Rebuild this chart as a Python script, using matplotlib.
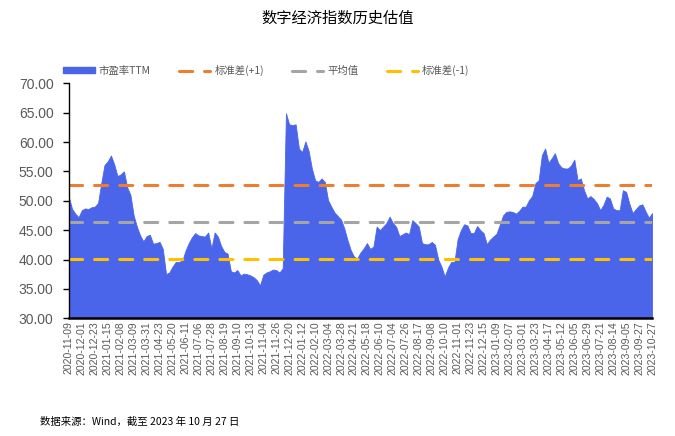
import matplotlib

matplotlib.use("Agg")
import matplotlib.pyplot as plt
import numpy as np
from matplotlib.lines import Line2D
from matplotlib.patches import Patch

plt.rcParams["font.family"] = ["Noto Sans CJK SC", "DejaVu Sans"]

# 市盈率TTM，每4个交易日取一点（2020-11-09 ~ 2023-10-27）
pe_ttm = [
    50.6, 48.6, 47.8, 47.2, 48.4, 48.7, 48.6, 48.9, 49.0, 49.6,
    53.0, 56.1, 56.7, 57.7, 56.2, 54.2, 54.5, 55.0, 52.3, 51.0,
    47.5, 45.6, 44.1, 43.1, 44.0, 44.2, 42.7, 42.8, 43.0, 41.8,
    37.5, 37.8, 38.8, 39.6, 39.6, 39.8, 41.5, 42.8, 43.8, 44.5,
    44.1, 44.0, 43.9, 44.6, 41.9, 44.6, 43.9, 42.3, 41.3, 41.0,
    38.0, 37.8, 38.2, 37.3, 37.6, 37.5, 37.3, 37.0, 36.5, 35.6,
    37.4, 37.8, 38.0, 38.3, 38.2, 37.8, 38.5, 64.9, 63.0, 62.9,
    63.0, 58.9, 58.3, 60.1, 58.5, 55.5, 53.5, 53.2, 53.8, 53.2,
    50.1, 49.0, 48.0, 47.4, 46.8, 45.3, 43.3, 41.6, 40.5, 40.2,
    41.2, 41.9, 42.8, 41.8, 42.2, 45.6, 45.0, 45.6, 46.2, 47.3,
    46.2, 45.6, 44.0, 44.3, 44.6, 44.3, 46.7, 46.2, 45.6, 42.8,
    42.6, 42.6, 43.0, 42.5, 40.0, 38.8, 37.1, 38.6, 39.6, 39.6,
    43.5, 45.0, 46.0, 45.8, 44.5, 44.5, 45.7, 45.0, 44.5, 42.6,
    43.4, 43.9, 44.4, 45.9, 47.5, 48.1, 48.2, 48.1, 47.8, 48.3,
    49.0, 49.0, 50.1, 50.8, 53.0, 53.5, 57.8, 58.9, 56.5, 57.2,
    58.1, 56.4, 55.7, 55.5, 55.5, 56.0, 57.0, 53.5, 53.8, 51.8,
    50.4, 50.8, 50.3, 49.6, 48.4, 49.3, 50.7, 50.4, 48.7, 48.4,
    48.4, 51.8, 51.5, 49.5, 47.9, 48.6, 49.2, 49.4, 48.2, 47.1,
    47.9,
]

date_labels = [
    "2020-11-09", "2020-12-01", "2020-12-23", "2021-01-15", "2021-02-08",
    "2021-03-09", "2021-03-31", "2021-04-23", "2021-05-20", "2021-06-11",
    "2021-07-06", "2021-07-28", "2021-08-19", "2021-09-10", "2021-10-13",
    "2021-11-04", "2021-11-26", "2021-12-20", "2022-01-12", "2022-02-10",
    "2022-03-04", "2022-03-28", "2022-04-21", "2022-05-18", "2022-06-10",
    "2022-07-04", "2022-07-26", "2022-08-17", "2022-09-08", "2022-10-10",
    "2022-11-01", "2022-11-23", "2022-12-15", "2023-01-09", "2023-02-07",
    "2023-03-01", "2023-03-23", "2023-04-17", "2023-05-12", "2023-06-05",
    "2023-06-29", "2023-07-21", "2023-08-14", "2023-09-05", "2023-09-27",
    "2023-10-27",
]

std_plus = 52.74
mean_val = 46.45
std_minus = 40.16

blue = "#4A65EA"
orange = "#ED7D31"
gray = "#A5A5A5"
yellow = "#FFC000"

fig = plt.figure(figsize=(6.75, 4.36), dpi=100)
ax = fig.add_axes([0.102, 0.270, 0.864, 0.539])

x = np.arange(len(pe_ttm))
ax.fill_between(x, pe_ttm, 30, color=blue, lw=0.6, edgecolor=blue)

dash = dict(lw=2.2, dashes=(4.3, 3.9), dash_capstyle="round")
for val, c in [(std_plus, orange), (mean_val, gray), (std_minus, yellow)]:
    ax.plot([x[0], x[-1]], [val, val], color=c, **dash)

ax.set_xlim(x[0], x[-1])
ax.set_ylim(30, 70)
ax.set_yticks(np.arange(30, 71, 5))
ax.set_yticklabels([f"{v:.2f}" for v in np.arange(30, 71, 5)],
                   fontsize=10, color="#595959", family="Liberation Sans")
ax.set_xticks(x[::4])
ax.set_xticklabels(date_labels, rotation=90, fontsize=7.6, color="#595959",
                   family="Liberation Sans")
ax.tick_params(axis="x", length=0, pad=2)
ax.tick_params(axis="y", length=4, width=1, direction="out", pad=7)

for s in ["top", "right"]:
    ax.spines[s].set_visible(False)
ax.spines["left"].set_linewidth(1.0)
ax.spines["bottom"].set_linewidth(1.8)
ax.spines["left"].set_color("black")
ax.spines["bottom"].set_color("black")

handles = [
    Patch(color=blue),
    Line2D([], [], color=orange, **dash),
    Line2D([], [], color=gray, **dash),
    Line2D([], [], color=yellow, **dash),
]
labels = ["市盈率TTM", "标准差(+1)", "平均值", "标准差(-1)"]
fig.legend(handles, labels, loc="center left", bbox_to_anchor=(0.08, 0.838),
           ncol=4, frameon=False, fontsize=7.5, handlelength=3.0,
           handleheight=0.5, handletextpad=0.4, columnspacing=2.7,
           labelcolor="#595959")

fig.text(0.5, 0.958, "数字经济指数历史估值", ha="center", va="center",
         fontsize=11, color="black")
fig.text(0.059, 0.034, "数据来源：Wind，截至 2023 年 10 月 27 日", ha="left",
         va="center", fontsize=7.5, color="black")

fig.savefig("out.png", dpi=100)
